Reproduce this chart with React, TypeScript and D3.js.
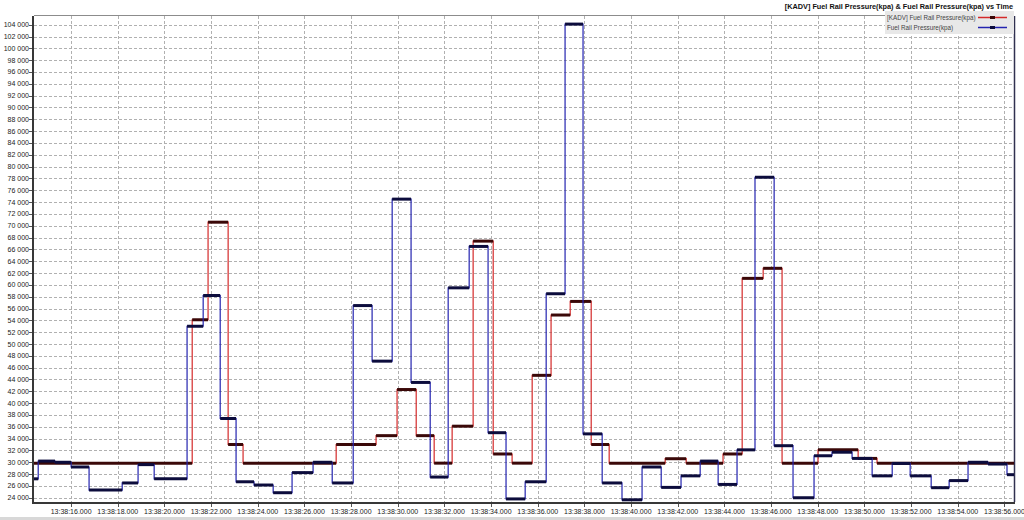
import React, { useRef, useEffect } from "react";
import * as d3 from "d3";

// seconds after 13:38:00 where each logged value starts
const kadvTimes = [
  14.41, 21.19, 21.87, 22.73, 23.37, 27.36, 29.07, 29.97, 30.79, 31.56, 32.33,
  33.23, 34.09, 34.9, 35.76, 36.57, 37.39, 38.29, 39.06, 41.46, 42.36, 43.94,
  44.76, 45.66, 46.47, 48.01, 49.73, 50.54,
];
const kadvValues = [
  29850, 54100, 70600, 33000, 29850, 33000, 34500, 42300, 34500, 29850, 36100,
  67400, 31400, 29850, 44700, 54900, 57200, 33000, 29850, 30600, 29850, 31400,
  61100, 62800, 29850, 32100, 30650, 29850,
];

const frpTimes = [
  14.41, 14.59, 15.31, 16.0, 16.77, 18.19, 18.87, 19.56, 20.97, 21.66, 22.39,
  23.07, 23.84, 24.66, 25.47, 26.37, 27.19, 28.09, 28.9, 29.76, 30.57, 31.39,
  32.16, 33.06, 33.87, 34.64, 35.46, 36.36, 37.17, 37.94, 38.76, 39.61, 40.47,
  41.29, 42.14, 42.96, 43.73, 44.54, 45.31, 46.13, 46.94, 47.84, 48.61, 49.47,
  50.33, 51.19, 51.96, 52.86, 53.63, 54.44, 55.3, 56.11,
];
const frpValues = [
  27200, 30200, 30000, 29200, 25300, 26500, 29600, 27200, 53000, 58200, 37400,
  26700, 26150, 24850, 28250, 30000, 26500, 56500, 47100, 74500, 43500, 27500,
  59500, 66500, 35000, 23800, 26700, 58500, 104100, 34800, 26500, 23650, 29200,
  25750, 27700, 30200, 26250, 32100, 78200, 32800, 24000, 31100, 31700, 30650,
  27700, 29800, 27700, 25700, 26900, 30000, 29700, 27900,
];

const seriesNames = ["[KADV] Fuel Rail Pressure(kpa)", "Fuel Rail Pressure(kpa)"];
const title = "[KADV] Fuel Rail Pressure(kpa) & Fuel Rail Pressure(kpa) vs Time";
const xTicks = d3.range(16, 57, 2);
const yTicks = d3.range(24000, 104001, 2000);

const FONT = "'Liberation Sans', Arial, sans-serif";

const App: React.FC = () => {
  const ref = useRef<SVGSVGElement | null>(null);

  useEffect(() => {
    document.body.style.margin = "0";
    const svg = d3.select(ref.current);
    svg.selectAll("*").remove();

    const left = 34;
    const right = 1014;
    const top = 16;
    const bottom = 502;

    const x = d3.scaleLinear().domain([14.41, 56.41]).range([left, right]);
    const y = d3.scaleLinear().domain([23280, 105470]).range([bottom, top]);

    const fmt = d3.formatLocale({
      decimal: ".",
      thousands: " ",
      grouping: [3],
      currency: ["", ""],
    }).format(",d");

    svg.append("rect").attr("width", 1024).attr("height", 520).attr("fill", "#fff");

    // grid
    svg
      .append("g")
      .selectAll("line")
      .data(yTicks)
      .join("line")
      .attr("x1", left)
      .attr("x2", right)
      .attr("y1", (d) => Math.round(y(d)) + 0.5)
      .attr("y2", (d) => Math.round(y(d)) + 0.5)
      .attr("stroke", "#b0b0b0")
      .attr("stroke-dasharray", "3,2");
    svg
      .append("g")
      .selectAll("line")
      .data(xTicks)
      .join("line")
      .attr("x1", (d) => Math.round(x(d)) + 0.5)
      .attr("x2", (d) => Math.round(x(d)) + 0.5)
      .attr("y1", top)
      .attr("y2", bottom)
      .attr("stroke", "#b0b0b0")
      .attr("stroke-dasharray", "3,2");

    // frame
    svg
      .append("line")
      .attr("x1", left)
      .attr("x2", right)
      .attr("y1", top - 0.5)
      .attr("y2", top - 0.5)
      .attr("stroke", "#8c8c8c");
    svg
      .append("line")
      .attr("x1", right + 0.5)
      .attr("x2", right + 0.5)
      .attr("y1", top)
      .attr("y2", bottom)
      .attr("stroke", "#303050")
      .attr("stroke-width", 1.5);

    // series
    svg
      .append("clipPath")
      .attr("id", "plot-clip")
      .append("rect")
      .attr("x", left)
      .attr("y", top)
      .attr("width", right - left)
      .attr("height", bottom - top);

    const plot = svg.append("g").attr("clip-path", "url(#plot-clip)");

    const drawSeries = (
      times: number[],
      values: number[],
      lineColor: string,
      markColor: string
    ) => {
      const pts = times.map((t, i) => [t, values[i]] as [number, number]);
      pts.push([56.41, values[values.length - 1]]);
      const line = d3
        .line<[number, number]>()
        .x((d) => x(d[0]))
        .y((d) => y(d[1]))
        .curve(d3.curveStepAfter);
      plot
        .append("path")
        .datum(pts)
        .attr("fill", "none")
        .attr("stroke", lineColor)
        .attr("stroke-width", 1.2)
        .attr("d", line);
      plot
        .append("g")
        .selectAll("line")
        .data(times)
        .join("line")
        .attr("x1", (d) => x(d))
        .attr("x2", (d, i) => x(i + 1 < times.length ? times[i + 1] : 56.41))
        .attr("y1", (d, i) => y(values[i]))
        .attr("y2", (d, i) => y(values[i]))
        .attr("stroke", markColor)
        .attr("stroke-width", 3);
    };

    drawSeries(kadvTimes, kadvValues, "#d42a2a", "#3a0808");
    drawSeries(frpTimes, frpValues, "#2424b0", "#0c0c3c");

    // axes
    svg
      .append("line")
      .attr("x1", left - 1)
      .attr("x2", left - 1)
      .attr("y1", top)
      .attr("y2", bottom + 1)
      .attr("stroke", "#383838")
      .attr("stroke-width", 2);
    svg
      .append("line")
      .attr("x1", left - 2)
      .attr("x2", right + 1)
      .attr("y1", bottom + 1)
      .attr("y2", bottom + 1)
      .attr("stroke", "#383838")
      .attr("stroke-width", 2);

    const yAxis = svg.append("g");
    yAxis
      .selectAll("line")
      .data(yTicks)
      .join("line")
      .attr("x1", left - 5)
      .attr("x2", left - 2)
      .attr("y1", (d) => Math.round(y(d)) + 0.5)
      .attr("y2", (d) => Math.round(y(d)) + 0.5)
      .attr("stroke", "#555");
    yAxis
      .selectAll("text")
      .data(yTicks)
      .join("text")
      .attr("x", left - 5)
      .attr("y", (d) => y(d) + 2.5)
      .attr("text-anchor", "end")
      .style("font-family", FONT)
      .style("font-size", "7px")
      .attr("fill", "#222")
      .text((d) => fmt(d));

    const xAxis = svg.append("g");
    xAxis
      .selectAll("line")
      .data(xTicks)
      .join("line")
      .attr("x1", (d) => Math.round(x(d)) + 0.5)
      .attr("x2", (d) => Math.round(x(d)) + 0.5)
      .attr("y1", bottom + 2)
      .attr("y2", bottom + 5)
      .attr("stroke", "#555");
    xAxis
      .selectAll("text")
      .data(xTicks)
      .join("text")
      .attr("x", (d) => x(d))
      .attr("y", bottom + 12)
      .attr("text-anchor", "middle")
      .style("font-family", FONT)
      .style("font-size", "7px")
      .attr("fill", "#222")
      .text((d) => `13:38:${d3.format("02d")(d)}.000`);

    // title
    svg
      .append("text")
      .attr("x", 1013)
      .attr("y", 9)
      .attr("text-anchor", "end")
      .style("font-family", FONT)
      .style("font-size", "7.3px")
      .style("font-weight", "bold")
      .attr("fill", "#111")
      .text(title);

    // legend
    const lg = svg.append("g");
    lg.append("rect")
      .attr("x", 885)
      .attr("y", 11)
      .attr("width", right - 885)
      .attr("height", 23)
      .attr("fill", "#e8e8e8");
    const colors = ["#d42a2a", "#2424b0"];
    const marks = ["#3a0808", "#0c0c3c"];
    seriesNames.forEach((name, i) => {
      const cy = 17.5 + i * 10;
      lg.append("text")
        .attr("x", 887)
        .attr("y", cy + 2.3)
        .style("font-family", FONT)
        .style("font-size", "6.3px")
        .attr("fill", "#444")
        .text(name);
      lg.append("line")
        .attr("x1", 978)
        .attr("x2", 1007)
        .attr("y1", cy)
        .attr("y2", cy)
        .attr("stroke", colors[i])
        .attr("stroke-width", 1.5);
      lg.append("rect")
        .attr("x", 990)
        .attr("y", cy - 1.5)
        .attr("width", 5)
        .attr("height", 3)
        .attr("fill", marks[i]);
    });

    // window edge at the bottom
    svg
      .append("rect")
      .attr("x", 0)
      .attr("y", 517)
      .attr("width", 1024)
      .attr("height", 3)
      .attr("fill", "#d8d8d8");
  }, []);

  return (
    <svg
      ref={ref}
      width={1024}
      height={520}
      style={{ display: "block" }}
    />
  );
};

export default App;
